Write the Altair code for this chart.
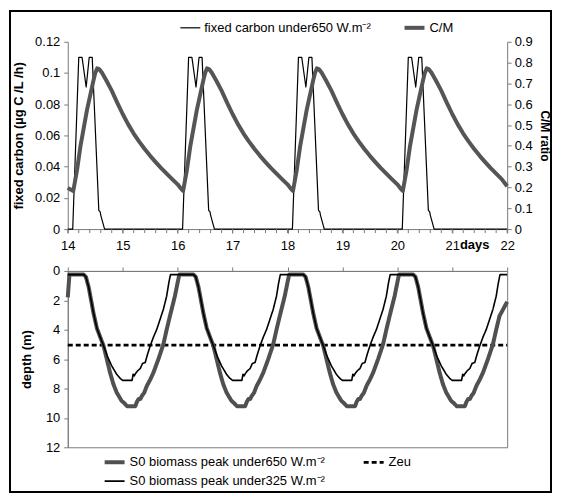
import altair as alt
import pandas as pd

# ---------------- data ----------------
CYCLES = [14, 16, 18, 20]          # start day of each 2-day cycle

FC = "fixed carbon under650 W.m\u207b\u00b2"
CM = "C/M"
S650 = "S0 biomass peak under650 W.m\u207b\u00b2"
ZEU = "Zeu"
S325 = "S0 biomass peak under325 W.m\u207b\u00b2"

# fixed carbon (ug C/L/h): phase = days after cycle start
fc_phase = [0.09, 0.20, 0.26, 0.335, 0.39, 0.445, 0.565, 0.59, 0.60, 0.67]
fc_value = [0.0, 0.11, 0.11, 0.091, 0.11, 0.11, 0.012, 0.011, 0.009, 0.0]
fc_start = [(14.0, 0.0)]
fc_end = [(22.0, 0.0)]

# C/M ratio
cm_phase = [0.10, 0.17, 0.23, 0.35, 0.47, 0.50, 0.535, 0.57, 0.62, 0.70, 0.80,
            0.90, 1.00, 1.10, 1.20, 1.30, 1.40, 1.50, 1.60, 1.70, 1.80, 1.90, 2.00, 2.05]
cm_value = [0.183, 0.286, 0.397, 0.573, 0.717, 0.75, 0.772, 0.769, 0.752, 0.715, 0.665,
            0.608, 0.553, 0.503, 0.459, 0.42, 0.385, 0.352, 0.322, 0.293, 0.266, 0.24, 0.215, 0.198]
cm_start = [(14.0, 0.198), (14.05, 0.19)]
cm_end = [(22.0, 0.206)]

# depth of S0 biomass peak under 650 W.m-2 (m)
th_phase = [0.03, 0.29, 0.33, 0.38, 0.47, 0.53, 0.59, 0.65, 0.71, 0.77, 0.83, 0.89,
            0.98, 1.03, 1.08, 1.23, 1.26, 1.29, 1.32, 1.35, 1.39, 1.44, 1.50, 1.56,
            1.65, 1.74, 1.80, 1.86, 1.95]
th_value = [0.25, 0.25, 0.4, 1.1, 2.9, 3.9, 4.5, 5.08, 6.0, 6.92, 7.7, 8.27,
            8.84, 9.0, 9.2, 9.2, 8.9, 8.72, 8.72, 8.5, 8.3, 7.82, 7.4, 6.92,
            6.0, 5.0, 4.0, 3.07, 1.72]
th_start = [(14.0, 1.8)]
th_end = [(22.0, 2.1)]

# depth of S0 biomass peak under 325 W.m-2 (m)
tn_phase = [0.29, 0.33, 0.38, 0.47, 0.53, 0.59, 0.65, 0.72, 0.80, 0.89, 0.95, 1.00,
            1.17, 1.19, 1.21, 1.23, 1.27, 1.32, 1.36, 1.41, 1.45, 1.50, 1.56, 1.62,
            1.68, 1.74, 1.80, 1.84, 1.87]
tn_value = [0.25, 0.4, 1.1, 2.9, 3.9, 4.5, 5.08, 5.8, 6.46, 7.03, 7.3, 7.45,
            7.45, 7.03, 7.14, 7.0, 6.8, 6.64, 6.3, 6.23, 5.7, 5.11, 4.5, 3.98,
            3.3, 2.62, 1.72, 0.8, 0.25]
tn_start = [(14.0, 0.25)]
tn_end = [(22.0, 0.25)]

zeu_day = [14.0, 22.0]
zeu_depth = [5.05, 5.05]

fc_ticks = [0, 0.02, 0.04, 0.06, 0.08, 0.1, 0.12]
cm_ticks = [0, 0.1, 0.2, 0.3, 0.4, 0.5, 0.6, 0.7, 0.8, 0.9]
depth_ticks = [0, 2, 4, 6, 8, 10, 12]
day_ticks = [14, 15, 16, 17, 18, 19, 20, 21, 22]
minor_ticks = [round(14 + 0.2 * i, 1) for i in range(41)]


def series(start, phase, value, end, cutoff, name, col):
    pts = list(start)
    for b in CYCLES:
        for p, v in zip(phase, value):
            d = round(b + p, 4)
            if d > pts[-1][0] and d < cutoff:
                pts.append((d, v))
    pts += end
    return pd.DataFrame({"day": [p[0] for p in pts], col: [p[1] for p in pts], "series": name})


fc_df = series(fc_start, fc_phase, fc_value, fc_end, 22.0, FC, "value")
cm_df = series(cm_start, cm_phase, cm_value, cm_end, 22.0, CM, "value")
th_df = series(th_start, th_phase, th_value, th_end, 21.9, S650, "depth")
tn_df = series(tn_start, tn_phase, tn_value, tn_end, 22.0, S325, "depth")
zeu_df = pd.DataFrame({"day": zeu_day, "depth": zeu_depth, "series": ZEU})
minor_df = pd.DataFrame({"day": minor_ticks})

# ---------------- styling ----------------
FONT = "Liberation Sans"
AX = "#7a7a7a"
W_TOP, H_TOP = 441, 188
W_BOT, H_BOT = 441, 177

x_top = alt.X(
    "day:Q",
    scale=alt.Scale(domain=[14, 22], nice=False, zero=False),
    axis=alt.Axis(values=day_ticks, format="d", grid=False, tickSize=4, labelPadding=6,
                  labelOverlap=False, labelFlush=False, labelFontSize=13,
                  domainColor=AX, tickColor=AX, title=None),
    title=None,
)

top_legend = alt.Legend(title=None, orient="none", legendX=112, legendY=-26,
                        direction="horizontal", symbolType="stroke", symbolSize=400,
                        labelFontSize=13, columnPadding=25, labelLimit=400, labelOffset=3)
color_top = alt.Color("series:N", scale=alt.Scale(domain=[FC, CM], range=["black", "#555555"]),
                      legend=top_legend)
sw_top = alt.StrokeWidth("series:N", scale=alt.Scale(domain=[FC, CM], range=[1.2, 4]),
                         legend=top_legend)

fc_line = alt.Chart(fc_df).mark_line(strokeJoin="round").encode(
    x=x_top,
    y=alt.Y("value:Q", scale=alt.Scale(domain=[0, 0.12], nice=False),
            axis=alt.Axis(values=fc_ticks, format=".2~f", grid=False, tickSize=4, labelPadding=4,
                          labelFontSize=13, domainColor=AX, tickColor=AX,
                          title="fixed carbon (\u00b5g C /L /h)", titleFontWeight="bold",
                          titleFontSize=13, titlePadding=9)),
    color=color_top, strokeWidth=sw_top,
)
cm_line = alt.Chart(cm_df).mark_line(strokeJoin="round").encode(
    x=x_top,
    y=alt.Y("value:Q", scale=alt.Scale(domain=[0, 0.9], nice=False),
            axis=alt.Axis(orient="right", values=cm_ticks, format=".1~f", grid=False, tickSize=4,
                          labelPadding=3, labelFontSize=13, domainColor=AX, tickColor=AX,
                          title="C/M ratio", titleFontWeight="bold", titleFontSize=12,
                          titlePadding=5)),
    color=color_top, strokeWidth=sw_top,
)
minor = alt.Chart(minor_df).mark_rule(color=AX, strokeWidth=1).encode(
    x=alt.X("day:Q"), y=alt.value(H_TOP), y2=alt.value(H_TOP + 4))

days_text = alt.Chart(pd.DataFrame({"day": [21.14], "t": ["days"]})).mark_text(
    align="left", baseline="top", fontWeight="bold", fontSize=13, font=FONT
).encode(x=alt.X("day:Q"), y=alt.value(H_TOP + 4 + 6), text="t:N")

frame = alt.Chart(alt.Data(values=[{"a": 1}])).mark_rect(
    fillOpacity=0, stroke="black", strokeWidth=2
).encode(x=alt.value(-58), x2=alt.value(485), y=alt.value(-31), y2=alt.value(452))

top = alt.layer(fc_line, cm_line, minor, days_text, frame).resolve_scale(y="independent").properties(
    width=W_TOP, height=H_TOP, view=alt.ViewBackground(stroke="transparent"))

# bottom panel
x_bot = alt.X(
    "day:Q",
    scale=alt.Scale(domain=[14, 22], nice=False, zero=False),
    axis=alt.Axis(orient="top", values=day_ticks, labels=False, grid=False, tickSize=4,
                  domainColor=AX, tickColor=AX, title=None),
    title=None,
)
y_bot = alt.Y(
    "depth:Q",
    scale=alt.Scale(domain=[0, 12], reverse=True, nice=False),
    axis=alt.Axis(values=depth_ticks, grid=False, tickSize=4, labelPadding=4, labelFontSize=13,
                  domainColor=AX, tickColor=AX, title="depth (m)", titleFontWeight="bold",
                  titleFontSize=13, titlePadding=12),
)
bot_dom = [S650, ZEU, S325]
bot_legend = alt.Legend(title=None, orient="none", legendX=35, legendY=180, columns=2,
                        direction="horizontal",
                        symbolType="stroke", symbolSize=400, labelFontSize=13,
                        columnPadding=32, rowPadding=0, labelLimit=400, labelOffset=3)
color_bot = alt.Color("series:N", scale=alt.Scale(domain=bot_dom, range=["#505050", "black", "black"]),
                      legend=bot_legend)
sw_bot = alt.StrokeWidth("series:N", scale=alt.Scale(domain=bot_dom, range=[4, 1.6, 1.2]),
                         legend=bot_legend)
sd_bot = alt.StrokeDash("series:N", scale=alt.Scale(domain=bot_dom, range=[[1, 0], [5, 3], [1, 0]]),
                        legend=bot_legend)

th_line = alt.Chart(th_df).mark_line(strokeJoin="round").encode(
    x=x_bot, y=y_bot, color=color_bot, strokeWidth=sw_bot, strokeDash=sd_bot)
tn_line = alt.Chart(tn_df).mark_line(strokeJoin="round").encode(
    x=x_bot, y=y_bot, color=color_bot, strokeWidth=sw_bot, strokeDash=sd_bot)
zeu_line = alt.Chart(zeu_df).mark_line().encode(
    x=x_bot, y=y_bot, color=color_bot, strokeWidth=sw_bot, strokeDash=sd_bot)

bottom = alt.layer(zeu_line, th_line, tn_line).properties(
    width=W_BOT, height=H_BOT, view=alt.ViewBackground(stroke=AX))

chart = alt.vconcat(top, bottom, spacing=42, bounds="flush").resolve_scale(
    x="independent", color="independent", strokeWidth="independent", strokeDash="independent"
).resolve_legend(color="independent", strokeWidth="independent", strokeDash="independent").properties(
    padding=0, background="white"
).configure_axis(
    labelFont=FONT, titleFont=FONT, labelColor="black", titleColor="black"
).configure_legend(labelFont=FONT, labelColor="black")

chart.save("out.html", embed_options={"renderer": "svg", "actions": False})
